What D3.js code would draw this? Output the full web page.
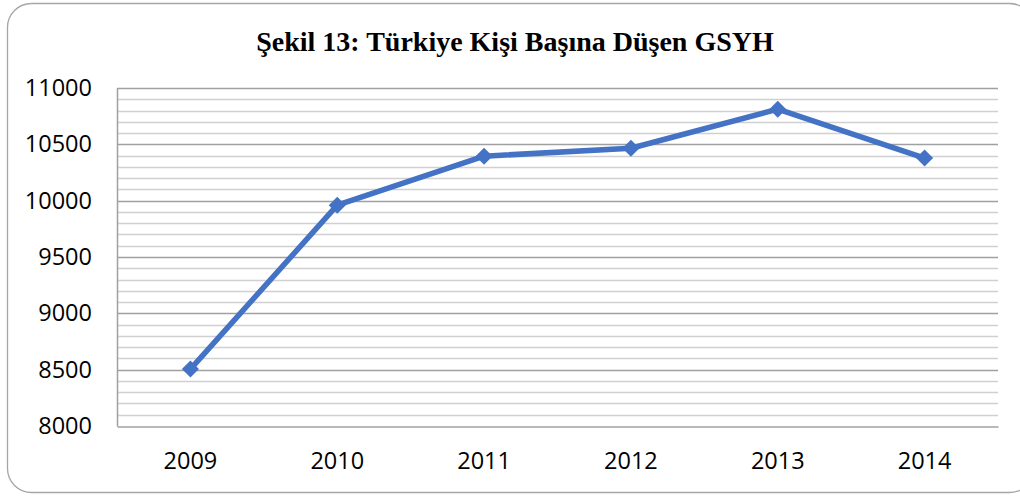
<!DOCTYPE html>
<html>
<head>
<meta charset="utf-8">
<script src="https://cdn.jsdelivr.net/npm/d3@7"></script>
<style>
  body { margin: 0; background: #fff; }
  svg { display: block; }
</style>
</head>
<body>
<svg id="area" width="1020" height="496"></svg>
<script>
// values
const years = ["2009", "2010", "2011", "2012", "2013", "2014"];
const gdp = [8505, 9960, 10395, 10465, 10812, 10378];
const yTicks = [8000, 8500, 9000, 9500, 10000, 10500, 11000];
const title = "Şekil 13: Türkiye Kişi Başına Düşen GSYH";

const svg = d3.select("#area");
const plotL = 117, plotR = 998, plotT = 88, plotB = 426;

// outer frame (runs off the right edge in the original)
svg.append("rect")
  .attr("x", 7.5).attr("y", 3.5)
  .attr("width", 1026).attr("height", 489)
  .attr("rx", 24).attr("ry", 24)
  .attr("fill", "#fff")
  .attr("stroke", "#a6a6a6")
  .attr("stroke-width", 1.3);

svg.append("text")
  .attr("x", 515).attr("y", 51)
  .attr("text-anchor", "middle")
  .style("font-family", "'Liberation Serif', 'Times New Roman', serif")
  .style("font-weight", "bold")
  .style("font-size", "28px")
  .text(title);

const x = d3.scaleBand().domain(years).range([plotL, plotR]);
const y = d3.scaleLinear().domain([8000, 11000]).range([plotB, plotT]);

// minor gridlines every 100
const minor = d3.range(8100, 11000, 100).filter(v => v % 500 != 0);
svg.append("g").selectAll("line").data(minor).join("line")
  .attr("x1", plotL).attr("x2", plotR)
  .attr("y1", d => Math.round(y(d)) + 0.5).attr("y2", d => Math.round(y(d)) + 0.5)
  .attr("stroke", "#d0d0d0").attr("stroke-width", 1.5);

// major gridlines
svg.append("g").selectAll("line").data(yTicks.slice(1)).join("line")
  .attr("x1", plotL).attr("x2", plotR)
  .attr("y1", d => Math.round(y(d)) + 0.5).attr("y2", d => Math.round(y(d)) + 0.5)
  .attr("stroke", "#a0a0a0").attr("stroke-width", 1.5);

// axes
const yAxis = d3.axisLeft(y).tickValues(yTicks).tickFormat(d3.format("d")).tickSize(0).tickPadding(25);
const gy = svg.append("g").attr("transform", "translate(" + plotL + ",0)").call(yAxis);
gy.select(".domain").attr("stroke", "#a0a0a0").attr("stroke-width", 1.5);
gy.selectAll("text")
  .style("font-family", "'Open Sans', 'Noto Sans', sans-serif")
  .style("font-size", "23.5px")
  .attr("fill", "#000");

const xAxis = d3.axisBottom(x).tickSize(0).tickPadding(26);
const gx = svg.append("g").attr("transform", "translate(0," + (plotB + 0.5) + ")").call(xAxis);
gx.select(".domain").attr("stroke", "#a0a0a0").attr("stroke-width", 1.5);
gx.selectAll("text")
  .style("font-family", "'Open Sans', 'Noto Sans', sans-serif")
  .style("font-size", "23.5px")
  .attr("fill", "#000");

const cx = d => x(d) + x.bandwidth() / 2;
const pts = years.map((yr, i) => ({yr: yr, v: gdp[i]}));

const line = d3.line().x(d => cx(d.yr)).y(d => y(d.v));
svg.append("path").datum(pts)
  .attr("d", line)
  .attr("fill", "none")
  .attr("stroke", "#4472c4")
  .attr("stroke-width", 5.5)
  .attr("stroke-linejoin", "round");

svg.append("g").selectAll("path").data(pts).join("path")
  .attr("d", d3.symbol().type(d3.symbolDiamond2).size(185))
  .attr("transform", d => "translate(" + cx(d.yr) + "," + y(d.v) + ")")
  .attr("fill", "#4472c4");
</script>
</body>
</html>
